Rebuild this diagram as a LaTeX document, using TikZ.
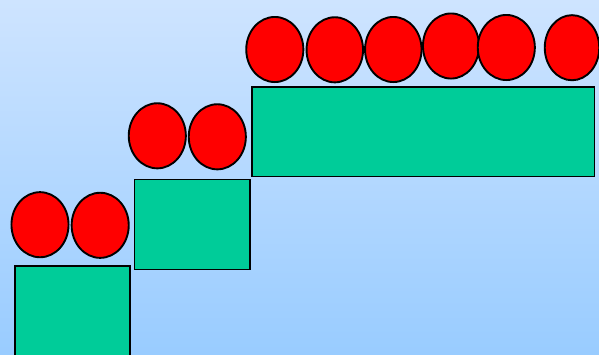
\documentclass[tikz,border=0pt]{standalone}
\usetikzlibrary{shapes.geometric}
\definecolor{bgtop}{RGB}{206,228,255}
\definecolor{bgbot}{RGB}{153,204,255}
\definecolor{stepgreen}{RGB}{0,204,153}
\definecolor{ballred}{RGB}{255,0,0}
\tikzset{
  ball/.style={ellipse,draw=black,fill=ballred,line width=1.9pt,inner sep=0pt,minimum width=57.1pt,minimum height=65.1pt},
  block/.style={rectangle,draw=black,fill=stepgreen,line width=1.9pt,inner sep=0pt}
}
\begin{document}
\begin{tikzpicture}[x=1pt,y=-1pt]
\useasboundingbox (0,0) rectangle (599,354);
\clip (0,0) rectangle (599,354);
\shade[top color=bgtop,bottom color=bgbot] (0,0) rectangle (599,354);
% blocks
\node[block,minimum width=115.4pt,minimum height=96pt,anchor=north west] (b1) at (13.8,265.2) {};
\node[block,minimum width=115.3pt,minimum height=90pt,anchor=north west] (b2) at (133.5,178.5) {};
\node[block,minimum width=342.7pt,minimum height=89.7pt,anchor=north west] (b3) at (250.8,85.8) {};
% balls
\node[ball] (e1) at (40,224.7) {};
\node[ball] (e2) at (100.2,225.3) {};
\node[ball] (e3) at (157.3,135.8) {};
\node[ball] (e4) at (217.3,136.8) {};
\node[ball] (e5) at (274.8,49.5) {};
\node[ball,minimum width=56.5pt] (e6) at (334.8,49.8) {};
\node[ball,minimum width=56.5pt] (e7) at (393.3,49.5) {};
\node[ball,minimum width=56.1pt] (e8) at (451,46) {};
\node[ball] (e9) at (506.3,47.5) {};
\node[ball,minimum width=54.5pt] (e10) at (572,47.7) {};
\end{tikzpicture}
\end{document}
